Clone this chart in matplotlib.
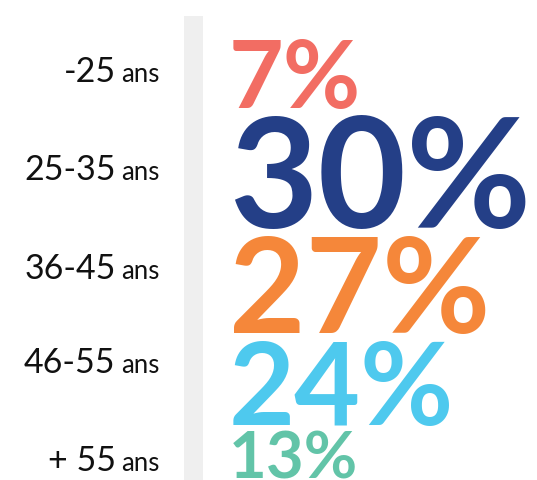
import matplotlib
matplotlib.use('Agg')
import matplotlib.pyplot as plt

# tranches d'age et parts
groups = ['-25', '25-35', '36-45', '46-55', '+ 55']
values = [7, 30, 27, 24, 13]
colors = ['#F26D63', '#243F87', '#F5873A', '#4EC9EE', '#62C4A8']

# positions (pixels) and sizes
label_base = [82, 180, 279, 373, 471]
pct_base = [108, 228, 333, 425, 479]
pct_size = [68, 110, 95, 82, 47]

plt.rcParams['font.family'] = ['Lato', 'DejaVu Sans']

fig = plt.figure(figsize=(5.37, 4.81), dpi=100)
ax = fig.add_axes([0, 0, 1, 1])
ax.set_xlim(0, 537)
ax.set_ylim(481, 0)
ax.axis('off')

# barre grise
ax.axvspan(184, 203, ymin=0, ymax=1 - 17 / 481, color='#EFEFEF', lw=0)

fig.canvas.draw()
renderer = fig.canvas.get_renderer()

for g, yb in zip(groups, label_base):
    t = ax.text(160, yb, 'ans', ha='right', va='baseline', fontsize=18.5, color='#111111')
    bb = t.get_window_extent(renderer)
    x_left = ax.transData.inverted().transform((bb.x0, bb.y0))[0]
    ax.text(x_left - 6, yb, g, ha='right', va='baseline', fontsize=24.5, color='#111111')

for v, c, yb, s in zip(values, colors, pct_base, pct_size):
    ax.text(229, yb, f'{v}%', ha='left', va='baseline', fontsize=s, color=c,
            fontweight='bold')

fig.savefig('out.png', dpi=100)
